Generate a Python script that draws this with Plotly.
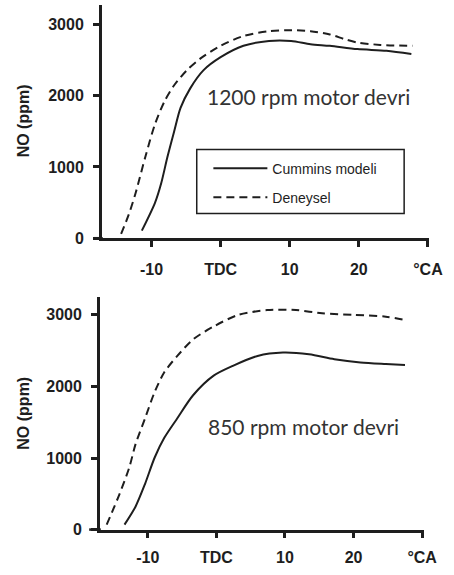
import plotly.graph_objects as go

# ---- data ----
ca_exp_1200 = [-14.4, -13.3, -12.3, -10.9, -9.5, -8.1, -6.7, -4.9, -3.0, 0, 3.3, 7.0, 10.2, 13, 15.8, 18.0, 19.8, 23.1, 27.8]
no_exp_1200 = [60, 330, 634, 1140, 1600, 1925, 2150, 2355, 2517, 2700, 2838, 2906, 2920, 2906, 2860, 2792, 2746, 2713, 2700]

ca_mod_1200 = [-11.4, -9.5, -8.6, -7.7, -6.7, -5.8, -4.4, -2.5, 0, 3.3, 7.0, 10.2, 13, 15.8, 19.8, 24, 27.6]
no_mod_1200 = [106, 496, 771, 1139, 1507, 1828, 2103, 2355, 2540, 2700, 2769, 2769, 2723, 2700, 2654, 2631, 2585]

ca_exp_850 = [-16.0, -14.1, -12.7, -11.8, -10.4, -9.0, -7.6, -5.7, -3.4, -0.4, 3.2, 7.4, 11.6, 15.4, 20.1, 24.7, 27.5]
no_exp_850 = [69, 503, 870, 1190, 1556, 1923, 2198, 2426, 2657, 2838, 3000, 3067, 3067, 3022, 3000, 2975, 2930]

ca_mod_850 = [-13.4, -11.8, -10.4, -9.0, -7.6, -5.7, -3.4, -0.4, 2.4, 6.0, 9.7, 13.5, 17.2, 21.0, 24.7, 27.5]
no_mod_850 = [69, 320, 640, 1007, 1282, 1556, 1877, 2151, 2288, 2426, 2473, 2449, 2381, 2335, 2312, 2298]

x_tickvals = [-10, 0, 10, 20, 30]
x_ticktext = ["-10", "TDC", "10", "20", "°CA"]
y_tickvals = [0, 1000, 2000, 3000]
y_ticktext = ["0", "1000", "2000", "3000"]

series_names = ["Cummins modeli", "Deneysel"]
panel_labels = ["1200 rpm motor devri", "850 rpm motor devri"]
y_title = "NO (ppm)"

W, H = 454, 575
INK = "#1e1e1e"
AXC = "#1e1e1e"
TICKFONT = dict(family="Liberation Sans, Arial", size=16, color=INK, weight="bold")

def px_x(p):
    return p / W

def px_y(p):
    return 1 - p / H

fig = go.Figure()

line_mod = dict(color=INK, width=2, shape="spline", smoothing=0.8)
line_exp = dict(color=INK, width=2, dash="8px,5px", shape="spline", smoothing=0.8)

fig.add_trace(go.Scatter(x=ca_mod_1200, y=no_mod_1200, mode="lines", line=line_mod,
                         name=series_names[0], legendgroup="a", xaxis="x", yaxis="y"))
fig.add_trace(go.Scatter(x=ca_exp_1200, y=no_exp_1200, mode="lines", line=line_exp,
                         name=series_names[1], legendgroup="b", xaxis="x", yaxis="y"))
fig.add_trace(go.Scatter(x=ca_mod_850, y=no_mod_850, mode="lines", line=line_mod,
                         name=series_names[0], showlegend=False, xaxis="x2", yaxis="y2"))
fig.add_trace(go.Scatter(x=ca_exp_850, y=no_exp_850, mode="lines", line=line_exp,
                         name=series_names[1], showlegend=False, xaxis="x2", yaxis="y2"))

common = dict(showgrid=False, zeroline=False, showline=True, linecolor=AXC, linewidth=2.5,
              ticks="outside", ticklen=6, tickwidth=2.5, tickcolor=AXC, tickfont=TICKFONT)

panels = [
    dict(xa="x", ya="y", yline=105, right=443, top=5, bottom=242,
         xrange=[-17.2, 30.2], yrange=[0, 3274], xstand=9),
    dict(xa="x2", ya="y2", yline=103, right=437, top=302, bottom=538,
         xrange=[-17.0, 30.2], yrange=[0, 3246], xstand=5),
]

layout_axes = {}
for i, p in enumerate(panels):
    sfx = "" if i == 0 else "2"
    layout_axes["xaxis" + sfx] = dict(common, tickvals=x_tickvals, ticktext=x_ticktext,
                                      ticklabelstandoff=p["xstand"],
                                      domain=[px_x(p["yline"]), px_x(p["right"])],
                                      range=p["xrange"], anchor=p["ya"])
    layout_axes["yaxis" + sfx] = dict(common, tickvals=y_tickvals, ticktext=y_ticktext,
                                      ticklabelstandoff=6,
                                      domain=[px_y(p["bottom"]), px_y(p["top"])],
                                      range=p["yrange"], anchor=p["xa"])

fig.update_layout(
    width=W, height=H,
    margin=dict(l=0, r=0, t=0, b=0),
    paper_bgcolor="white", plot_bgcolor="white",
    showlegend=True,
    legend=dict(x=px_x(215), y=px_y(155), xanchor="left", yanchor="top",
                bgcolor="rgba(0,0,0,0)", borderwidth=0,
                font=dict(family="Liberation Sans, Arial", size=14, color=INK),
                itemwidth=54, tracegroupgap=8, traceorder="grouped"),
    **layout_axes,
)

# short extension of each x-axis line to the left of the y-axis (paper coordinates)
for xl, xr, yl in [(97, 106, 242), (92, 104, 538)]:
    fig.add_shape(type="line", xref="paper", yref="paper",
                  x0=px_x(xl), x1=px_x(xr), y0=px_y(yl), y1=px_y(yl),
                  line=dict(color=AXC, width=2.5))

# legend frame
fig.add_shape(type="rect", xref="paper", yref="paper",
              x0=px_x(203), x1=px_x(417), y0=px_y(217), y1=px_y(152),
              line=dict(color=INK, width=1.5))

# y-axis titles
for yc in [123, 420]:
    fig.add_annotation(text=y_title, textangle=-90, xref="paper", yref="paper",
                       x=px_x(24), y=px_y(yc), xanchor="center", yanchor="middle",
                       showarrow=False,
                       font=dict(family="Liberation Sans, Arial", size=16, color=INK, weight="bold"))

# panel labels
for txt, xl, yc in [(panel_labels[0], 212, 98), (panel_labels[1], 213, 433)]:
    fig.add_annotation(text=txt, xref="paper", yref="paper",
                       x=px_x(xl), y=px_y(yc), xanchor="left", yanchor="middle",
                       showarrow=False,
                       font=dict(family="Lato, Open Sans", size=21, color="#333333"))

fig.write_html("out.html")
